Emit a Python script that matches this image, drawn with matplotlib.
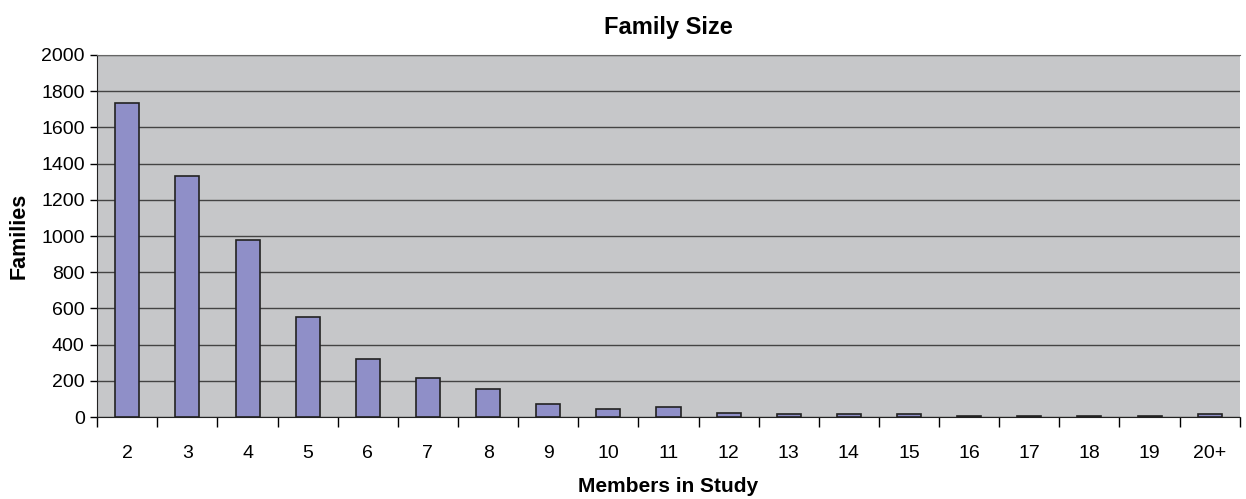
import matplotlib.pyplot as plt
import numpy as np

# Tamaño de la familia (miembros en el estudio) y número de familias
miembros = ['2', '3', '4', '5', '6', '7', '8', '9', '10', '11',
            '12', '13', '14', '15', '16', '17', '18', '19', '20+']
familias = [1733, 1330, 980, 553, 320, 215, 155, 73, 46, 54,
            25, 17, 16, 16, 9, 9, 9, 9, 17]
yticks = [0, 200, 400, 600, 800, 1000, 1200, 1400, 1600, 1800, 2000]

plt.rcParams['font.family'] = ['Liberation Sans', 'DejaVu Sans']

fig = plt.figure(figsize=(12.46, 4.99), dpi=100)
ax = fig.add_axes([0.078, 0.164, 0.917, 0.726])

x = np.arange(len(miembros))
ax.set_facecolor('#C6C7C9')
ax.bar(x, familias, width=0.4, color='#8F8FC8', edgecolor='#222222', linewidth=1.2, zorder=3)

ax.set_xlim(-0.5, len(miembros) - 0.5)
ax.set_ylim(0, 2000)
ax.set_yticks(yticks)
ax.set_yticklabels([str(v) for v in yticks], fontsize=14)
ax.yaxis.grid(True, color='#444444', linewidth=1, zorder=1)

# Marcas del eje x entre categorías, etiquetas centradas
ax.set_xticks(np.arange(-0.5, len(miembros), 1.0))
ax.set_xticklabels([])
ax.set_xticks(x, minor=True)
ax.set_xticklabels(miembros, minor=True, fontsize=14)
ax.tick_params(axis='x', which='minor', length=0, pad=20)
ax.tick_params(axis='x', which='major', length=7, width=1, direction='out')
ax.tick_params(axis='y', length=5, width=1, direction='out', pad=4)

ax.spines['right'].set_visible(False)
ax.spines['top'].set_color('#666666')
ax.spines['left'].set_color('#222222')
ax.spines['bottom'].set_color('#222222')
ax.spines['bottom'].set_zorder(4)

ax.set_title('Family Size', fontsize=17, fontweight='bold', pad=15)
ax.set_xlabel('Members in Study', fontsize=15, fontweight='bold', labelpad=11)
ax.set_ylabel('Families', fontsize=15.5, fontweight='bold', labelpad=8)

fig.savefig('out.png', dpi=100)
plt.close(fig)
